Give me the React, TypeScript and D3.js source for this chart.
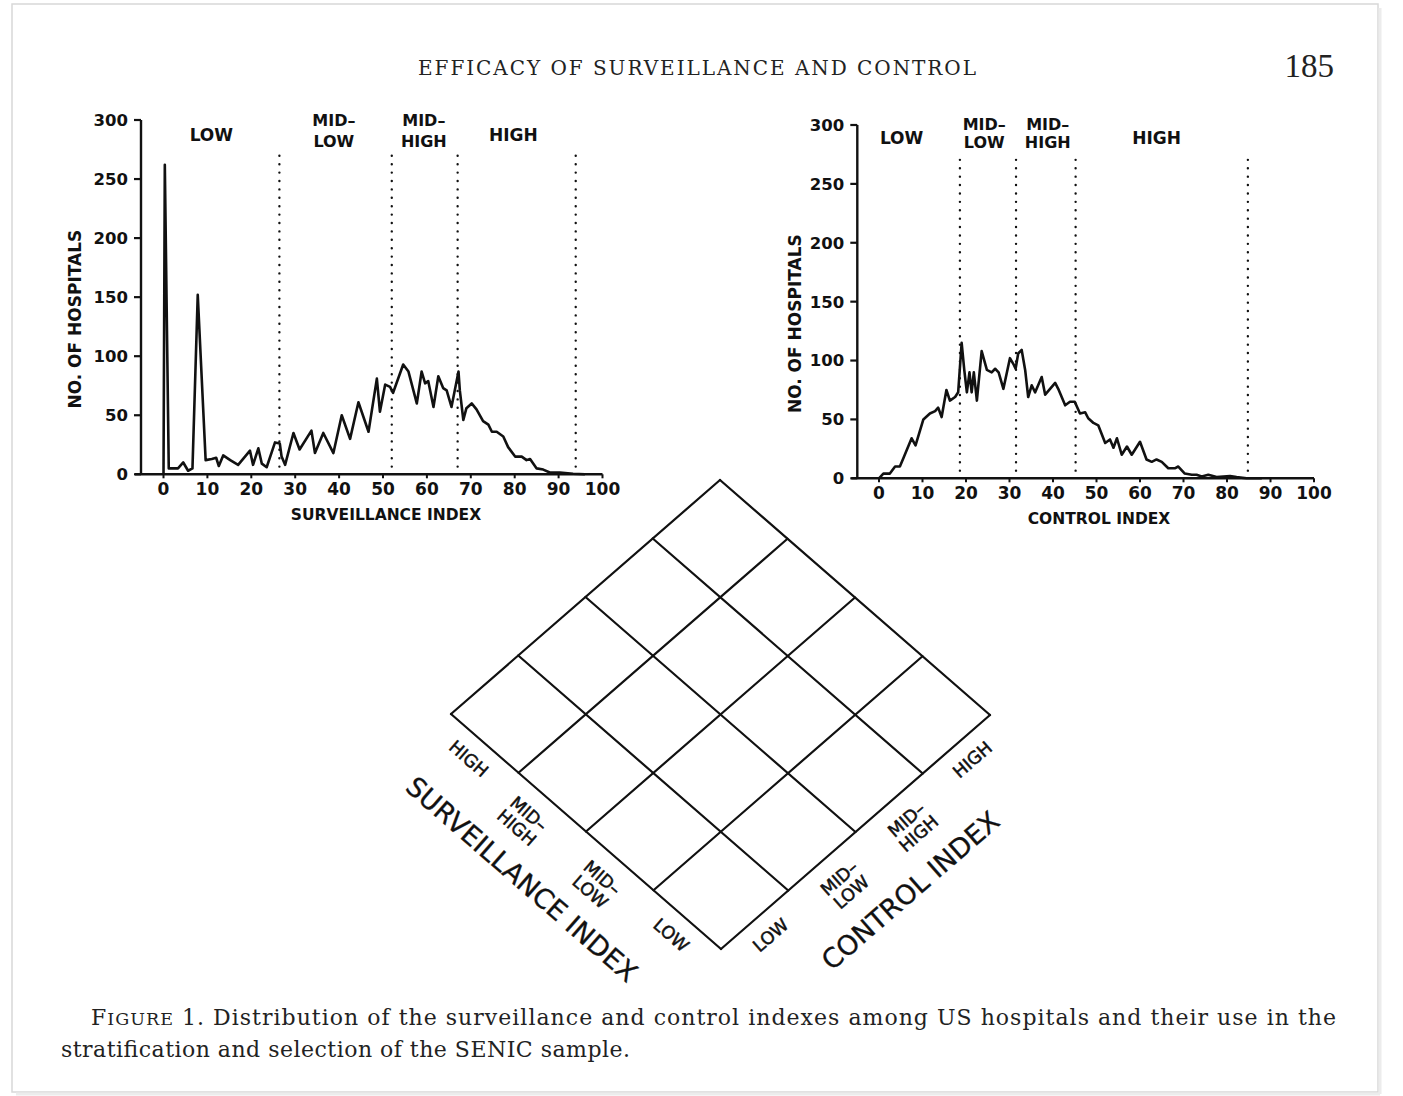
import React from 'react';
import * as d3 from 'd3';

// ---------- DATA ----------
// Surveillance index distribution (index value, number of hospitals)
const survIndex = [0, 0.3, 1.2, 3.3, 4.5, 5.6, 6.6, 7.8, 9.6, 11, 12, 12.6, 13.6, 15.2, 17, 19.7, 20.4, 21.6, 22.4, 23.5, 25.4, 26.5, 26.9, 27.7, 29.6, 31, 33.7, 34.5, 36.4, 38.7, 40.6, 42.5, 44.4, 46.7, 48.6, 49.3, 50.5, 51.6, 52.3, 54.6, 55.8, 57.7, 58.8, 59.6, 60.3, 61.5, 62.6, 63.7, 64.5, 65.6, 67.2, 67.5, 68.3, 69, 70.2, 71.3, 72.8, 74, 74.8, 75.9, 77.4, 78.5, 80.1, 81.6, 82.7, 83.5, 85, 86.5, 88, 90.3, 93.3, 96];
const survCount = [0, 262, 5, 5, 10, 3, 5, 152, 12, 13, 14, 7, 16, 12, 8, 20, 8, 22, 9, 6, 27, 26, 15, 8, 35, 21, 37, 18, 35, 18, 50, 30, 61, 36, 81, 53, 76, 74, 69, 93, 87, 60, 87, 77, 79, 57, 83, 73, 71, 57, 87, 71, 46, 56, 60, 55, 45, 42, 36, 36, 32, 23, 15, 15, 12, 13, 5, 4, 1.5, 1.5, 0.5, 0];

// Control index distribution
const ctrlIndex = [0, 1, 2.5, 3.7, 4.8, 5.6, 7.5, 8.4, 10.2, 11.7, 12.9, 13.6, 14.4, 15.5, 16.3, 17.5, 18.2, 19, 19.6, 20.2, 20.8, 21.3, 21.8, 22.5, 23.6, 24.8, 25.9, 26.7, 27.5, 28.6, 30.1, 30.9, 31.4, 32, 32.8, 33.6, 34.3, 35.1, 35.9, 37.4, 38.2, 40.5, 41.2, 42.8, 43.9, 45, 46.2, 47.4, 48.1, 49.3, 50.4, 52, 53.1, 53.9, 54.7, 55.8, 57, 58.1, 60, 61.5, 62.7, 63.8, 65, 66.5, 68, 68.8, 70.3, 71.9, 73, 74.2, 75.7, 77.6, 80.7, 82.2, 84.5, 88];
const ctrlCount = [0, 4, 4, 10, 10, 17, 34, 28, 50, 55, 57, 60, 52, 75, 66, 69, 73, 115, 92, 73, 90, 73, 90, 66, 108, 92, 90, 93, 90, 76, 102, 97, 93, 106, 109, 92, 69, 79, 73, 86, 71, 81, 76, 62, 65, 65, 55, 56, 51, 47, 45, 30, 33, 26, 34, 20, 27, 20, 31, 16, 14, 16, 14, 8.5, 8.5, 10, 4, 3, 3, 1.5, 3, 1, 2, 1, 0, 0];

// Stratum cut points (index values) and dotted-line extent (hospitals)
const survCuts = [26.4, 52, 67, 93.9];
const ctrlCuts = [18.6, 31.5, 45.2, 84.8];
const cutExtent = [6.5, 275];

// Axis ticks
const xTicks = [0, 10, 20, 30, 40, 50, 60, 70, 80, 90, 100];
const yTicks = [0, 50, 100, 150, 200, 250, 300];

// Stratum names
const survStrata = ['LOW', 'MID–\nLOW', 'MID–\nHIGH', 'HIGH'];
const ctrlStrata = ['LOW', 'MID–\nLOW', 'MID–\nHIGH', 'HIGH'];

// ---------- LAYOUT ----------
const W = 1403;
const H = 1096;
const SANS = '"DejaVu Sans", "Liberation Sans", Arial, sans-serif';
const SERIF = '"DejaVu Serif", "Liberation Serif", serif';
const SERIF_NUM = '"Liberation Serif", "DejaVu Serif", serif';

const leftFrame = {
  axisX: 141, x0: 163.5, x100: 602.5, y0: 474.3, y300: 120,
  labelAt: [10.9, 38.8, 59.3, 79.7], singleBase: 141, twoBase: [126, 147],
  xTitle: 'SURVEILLANCE INDEX', xTitleX: 386, xTitleY: 520, yTitleX: 75,
};
const rightFrame = {
  axisX: 857.3, x0: 879, x100: 1314, y0: 478.3, y300: 125,
  labelAt: [5.2, 24.2, 38.8, 63.8], singleBase: 144, twoBase: [130, 148],
  xTitle: 'CONTROL INDEX', xTitleX: 1099, xTitleY: 524, yTitleX: 795,
};

function Histogram({ frame, xs, ys, cuts, names }: any) {
  const x = d3.scaleLinear().domain([0, 100]).range([frame.x0, frame.x100]);
  const y = d3.scaleLinear().domain([0, 300]).range([frame.y0, frame.y300]);
  const pts = xs.map((v: number, i: number) => [v, ys[i]] as [number, number]);
  const line = d3.line<[number, number]>().x((d) => x(d[0])).y((d) => y(d[1]));
  const ink = '#111';
  return (
    <g>
      {/* y axis */}
      <line x1={frame.axisX} x2={frame.axisX} y1={y(0)} y2={y(300)} stroke={ink} strokeWidth={2.4} />
      {yTicks.map((t) => (
        <g key={'yt' + t}>
          <line x1={frame.axisX - 7} x2={frame.axisX} y1={y(t)} y2={y(t)} stroke={ink} strokeWidth={2.2} />
          <text x={frame.axisX - 13} y={y(t)} dy="0.36em" textAnchor="end" fontFamily={SANS} fontWeight="bold" fontSize={16.5} fill={ink}>{t}</text>
        </g>
      ))}
      {/* x axis */}
      <line x1={frame.axisX - 6} x2={x(100)} y1={y(0)} y2={y(0)} stroke={ink} strokeWidth={2.4} />
      {xTicks.map((t) => (
        <g key={'xt' + t}>
          <line x1={x(t)} x2={x(t)} y1={y(0)} y2={y(0) + 4} stroke={ink} strokeWidth={2} />
          <text x={x(t)} y={y(0) + 21} textAnchor="middle" fontFamily={SANS} fontWeight="bold" fontSize={17} fill={ink}>{t}</text>
        </g>
      ))}
      <text x={frame.xTitleX} y={frame.xTitleY} textAnchor="middle" fontFamily={SANS} fontWeight="bold" fontSize={15.5} fill={ink}>{frame.xTitle}</text>
      <text transform={`translate(${frame.yTitleX},${(y(0) + y(300)) / 2 + 22}) rotate(-90)`} textAnchor="middle" dy="0.36em" fontFamily={SANS} fontWeight="bold" fontSize={17} fill={ink}>NO. OF HOSPITALS</text>
      {/* cut lines */}
      {cuts.map((c: number) => (
        <line key={'c' + c} x1={x(c)} x2={x(c)} y1={y(cutExtent[0])} y2={y(cutExtent[1])} stroke={ink} strokeWidth={2.4} strokeDasharray="0 8.4" strokeLinecap="round" />
      ))}
      {/* stratum labels */}
      {names.map((n: string, i: number) => {
        const parts = n.split('\n');
        if (parts.length === 1) {
          return <text key={'n' + i} x={x(frame.labelAt[i])} y={frame.singleBase} textAnchor="middle" fontFamily={SANS} fontWeight="bold" fontSize={17} fill={ink}>{parts[0]}</text>;
        }
        return (
          <g key={'n' + i}>
            <text x={x(frame.labelAt[i])} y={frame.twoBase[0]} textAnchor="middle" fontFamily={SANS} fontWeight="bold" fontSize={16} fill={ink}>{parts[0]}</text>
            <text x={x(frame.labelAt[i])} y={frame.twoBase[1]} textAnchor="middle" fontFamily={SANS} fontWeight="bold" fontSize={16} fill={ink}>{parts[1]}</text>
          </g>
        );
      })}
      {/* frequency polygon */}
      <path d={line(pts) || ''} fill="none" stroke={ink} strokeWidth={2.6} strokeLinejoin="round" />
    </g>
  );
}

function Diamond() {
  const bottom = [721, 949];
  const right = [990, 715];
  const left = [451, 714];
  const f = d3.scaleLinear().domain([0, 4]).range([0, 1]);
  const pt = (u: number, v: number) => [
    bottom[0] + f(u) * (right[0] - bottom[0]) + f(v) * (left[0] - bottom[0]),
    bottom[1] + f(u) * (right[1] - bottom[1]) + f(v) * (left[1] - bottom[1]),
  ];
  const ink = '#111';
  const idx = d3.range(5);
  const angS = (Math.atan2(bottom[1] - left[1], bottom[0] - left[0]) * 180) / Math.PI; // ~ +41
  const angC = (Math.atan2(right[1] - bottom[1], right[0] - bottom[0]) * 180) / Math.PI; // ~ -41
  const fs = 17.5;
  const renderLabel = (txt: string, p: number[], ang: number, key: string, along: number) => {
    const parts = txt.split('\n');
    return (
      <g key={key} transform={`translate(${p[0]},${p[1]}) rotate(${ang})`}>
        {parts.length === 1 ? (
          <text x={along} y={22} dy="0.36em" textAnchor="middle" fontFamily={SANS} fontSize={fs} fill={ink} stroke={ink} strokeWidth={0.5}>{parts[0]}</text>
        ) : (
          <text textAnchor="middle" fontFamily={SANS} fontSize={fs} fill={ink} stroke={ink} strokeWidth={0.5}>
            <tspan x={along} y={24} dy="0.36em">{parts[0]}</tspan>
            <tspan x={along} y={42.5} dy="0.36em">{parts[1]}</tspan>
          </text>
        )}
      </g>
    );
  };
  return (
    <g>
      {idx.map((i) => {
        const a = pt(i, 0), b = pt(i, 4);
        return <line key={'u' + i} x1={a[0]} y1={a[1]} x2={b[0]} y2={b[1]} stroke={ink} strokeWidth={2.2} strokeLinecap="round" />;
      })}
      {idx.map((i) => {
        const a = pt(0, i), b = pt(4, i);
        return <line key={'v' + i} x1={a[0]} y1={a[1]} x2={b[0]} y2={b[1]} stroke={ink} strokeWidth={2.2} strokeLinecap="round" />;
      })}
      {survStrata.map((s, i) => renderLabel(s, pt(0, i + 0.5), angS, 's' + i, i === 2 ? -10 : -2))}
      {ctrlStrata.map((s, i) => renderLabel(s, pt(i + 0.5, 0), angC, 'c' + i, 2))}
      <g transform={`translate(${pt(0, 2)[0]},${pt(0, 2)[1]}) rotate(${angS})`}>
        <text x={-17} y={78} dy="0.36em" textAnchor="middle" fontFamily={SANS} fontSize={27} fill={ink} stroke={ink} strokeWidth={0.3}>SURVEILLANCE INDEX</text>
      </g>
      <g transform={`translate(${pt(2, 0)[0]},${pt(2, 0)[1]}) rotate(${angC})`}>
        <text x={3} y={80} dy="0.36em" textAnchor="middle" fontFamily={SANS} fontSize={27} fill={ink} stroke={ink} strokeWidth={0.3}>CONTROL INDEX</text>
      </g>
    </g>
  );
}

export default function App() {
  return (
    <svg width={W} height={H} viewBox={`0 0 ${W} ${H}`} style={{ position: 'absolute', left: 0, top: 0, background: '#fff' }}>
      <rect x={0} y={0} width={W} height={H} fill="#fff" />
      {/* page edge */}
      <rect x={12} y={4} width={1366} height={1088} fill="none" stroke="#d8d8d8" strokeWidth={1.5} />
      <line x1={1380} y1={8} x2={1380} y2={1094} stroke="#ececec" strokeWidth={3} />
      <line x1={16} y1={1094} x2={1380} y2={1094} stroke="#ececec" strokeWidth={3} />

      {/* running head */}
      <text x={697} y={75} textAnchor="middle" fontFamily={SERIF} fontSize={20} textLength={558} lengthAdjust="spacing" fill="#222">EFFICACY OF SURVEILLANCE AND CONTROL</text>
      <text x={1334} y={77} textAnchor="end" fontFamily={SERIF_NUM} fontSize={33} fill="#222">185</text>

      <Histogram frame={leftFrame} xs={survIndex} ys={survCount} cuts={survCuts} names={survStrata} />
      <Histogram frame={rightFrame} xs={ctrlIndex} ys={ctrlCount} cuts={ctrlCuts} names={ctrlStrata} />

      <Diamond />

      {/* caption */}
      <text x={91} y={1025} fontFamily={SERIF} fontSize={22} textLength={1245} lengthAdjust="spacing" fill="#222">
        <tspan>F</tspan><tspan fontSize={17.5}>IGURE</tspan><tspan> 1. Distribution of the surveillance and control indexes among US hospitals and their use in the</tspan>
      </text>
      <text x={61} y={1057} fontFamily={SERIF} fontSize={22} textLength={569} lengthAdjust="spacing" fill="#222">stratification and selection of the SENIC sample.</text>
    </svg>
  );
}
